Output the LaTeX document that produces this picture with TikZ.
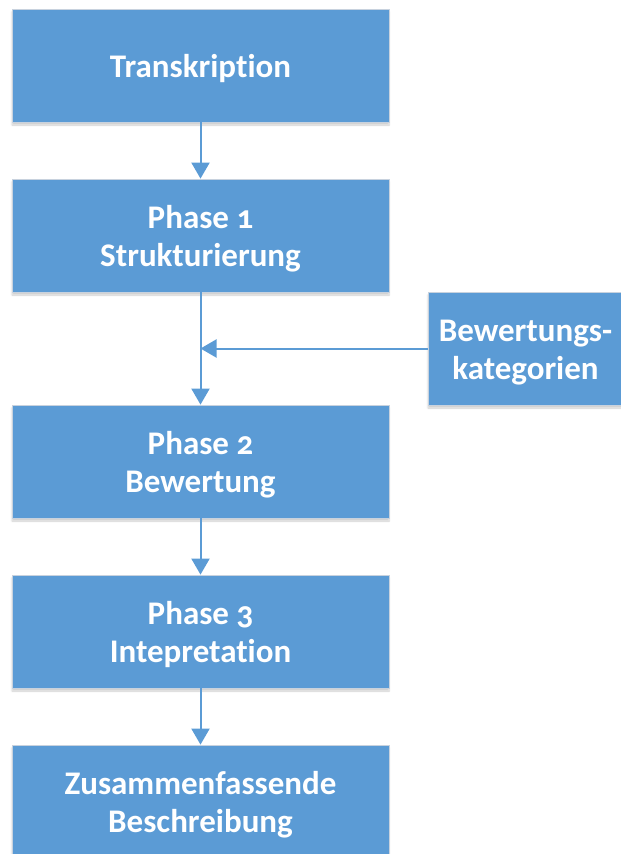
\documentclass[tikz,border=0pt]{standalone}
\usepackage{fontspec}
\setmainfont{Carlito}[Numbers=OldStyle,Ligatures=NoCommon]
\usetikzlibrary{arrows.meta,shadows.blur}
\definecolor{boxblue}{RGB}{91,155,213}
\definecolor{boxedge}{RGB}{200,210,222}
\newcommand\topstrut{\rule{0pt}{29pt}}
\tikzset{
  stepbox/.style={rectangle, fill=boxblue, draw=boxedge, line width=0.8pt,
    minimum width=377pt, minimum height=113pt, inner sep=0pt,
    text=white, font=\fontsize{33}{38}\selectfont\bfseries, align=center,
    blur shadow={shadow xshift=0pt, shadow yshift=-3pt, shadow opacity=20, shadow blur steps=6}},
  sidebox/.style={stepbox, minimum width=195pt},
  conn/.style={draw=boxblue, line width=2pt, -{Triangle[width=18pt,length=16pt]}}
}
\begin{document}
\begin{tikzpicture}[x=1pt,y=-1pt]
\useasboundingbox (0,0) rectangle (621,854);
\clip (0,0) rectangle (621,854);
\node[stepbox] (b1) at (200.5,65.5) {\topstrut Transkription};
\node[stepbox] (b2) at (200.5,235.5) {\topstrut Phase 1\\Strukturierung};
\node[stepbox] (b3) at (200.5,461.5) {\topstrut Phase 2\\Bewertung};
\node[stepbox] (b4) at (200.5,631.5) {\topstrut Phase 3\\Intepretation};
\node[stepbox] (b5) at (200.5,801.5) {\topstrut Zusammenfassende\\Beschreibung};
\node[sidebox] (s) at (525.5,348.5) {\topstrut Bewertungs-\\kategorien};
\coordinate (j) at (b2.south |- s.west);
\draw[conn] (b1) -- (b2);
\draw[conn] (b2) -- (b3);
\draw[conn] (s.west) -- (j);
\draw[conn] (b3) -- (b4);
\draw[conn] (b4) -- (b5);
\end{tikzpicture}
\end{document}
